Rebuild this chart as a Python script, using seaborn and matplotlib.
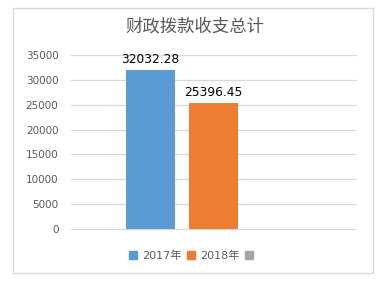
import matplotlib
matplotlib.use("Agg")
import matplotlib.pyplot as plt
import matplotlib.patches as mpatches
import seaborn as sns
import pandas as pd
import numpy as np

categories = ["财政拨款收支总计"]
series = ["2017年", "2018年", " "]
values = [32032.28, 25396.45, np.nan]
colors = ["#5B9BD5", "#ED7D31", "#A5A5A5"]
yticks = [0, 5000, 10000, 15000, 20000, 25000, 30000, 35000]

df = pd.DataFrame({"cat": categories * len(series), "series": series, "value": values})

sns.set_style("white")
plt.rcParams["font.family"] = ["DejaVu Sans", "Noto Sans CJK SC"]

fig = plt.figure(figsize=(3.9, 2.85), dpi=100)
ax = fig.add_axes([71/390, 1-229/285, 285/390, (229-55)/285])

sns.barplot(data=df, x="cat", y="value", hue="series", hue_order=series,
            palette=colors, width=0.663, gap=0.222, ax=ax, legend=False,
            saturation=1, errorbar=None, linewidth=0)

for c in ax.containers:
    ax.bar_label(c, fmt="%.2f", padding=3, fontsize=8.8, color="black")

ax.set_xlim(-0.5, 0.5)
ax.set_ylim(0, 35000)
ax.set_yticks(yticks)
ax.set_yticklabels([str(v) for v in yticks], fontsize=7.5, color="#595959")
ax.set_xticks([])
ax.set_xlabel("")
ax.set_ylabel("")
for s in ax.spines.values():
    s.set_visible(False)
ax.yaxis.grid(True, color="#d9d9d9", linewidth=0.9)
for gl in ax.get_ygridlines():
    gl.set_clip_on(False)
ax.set_axisbelow(True)
ax.tick_params(axis="y", length=0, pad=9)

fig.text(0.5, 1-27/285, "财政拨款收支总计", ha="center", va="center",
         fontsize=12.5, color="#595959", family=["Noto Sans CJK SC"])

handles = [mpatches.Patch(color=c, label=s) for c, s in zip(colors, series)]
fig.legend(handles=handles, loc="center", bbox_to_anchor=(0.5, 1-256/285),
           ncol=3, frameon=False, fontsize=8, handlelength=0.75, handleheight=0.75,
           handletextpad=0.4, columnspacing=0.5, labelcolor="#595959")

fig.patches.append(mpatches.Rectangle((13/390, 1-273/285), 360/390, 265/285,
                                      transform=fig.transFigure, fill=False,
                                      edgecolor="#d9d9d9", linewidth=1))

fig.savefig("out.png", dpi=100)
